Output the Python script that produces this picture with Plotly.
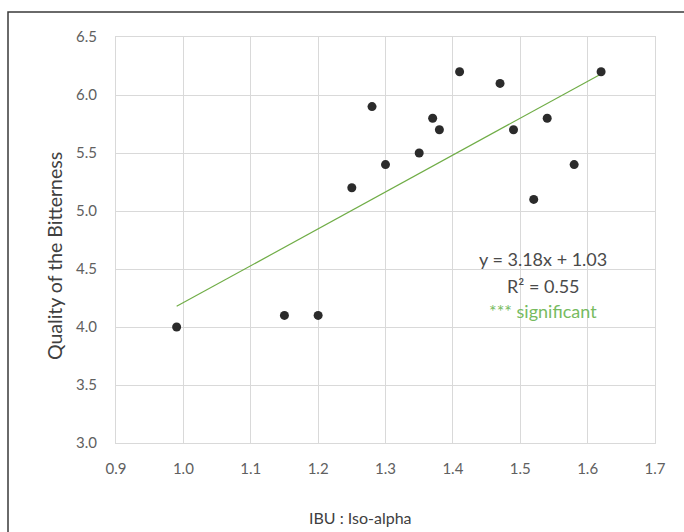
import plotly.graph_objects as go

# Data
ibu_iso_alpha = [0.99, 1.15, 1.20, 1.25, 1.28, 1.30, 1.35, 1.37, 1.38, 1.41, 1.47, 1.49, 1.52, 1.54, 1.58, 1.62]
bitterness_quality = [4.0, 4.1, 4.1, 5.2, 5.9, 5.4, 5.5, 5.8, 5.7, 6.2, 6.1, 5.7, 5.1, 5.8, 5.4, 6.2]

# Trendline coefficients as printed on the chart
slope = 3.18
intercept = 1.03
r_squared = 0.55

x_ticks = [0.9, 1.0, 1.1, 1.2, 1.3, 1.4, 1.5, 1.6, 1.7]
y_ticks = [3.0, 3.5, 4.0, 4.5, 5.0, 5.5, 6.0, 6.5]

x_title = "IBU : Iso-alpha"
y_title = "Quality of the Bitterness"

FONT = "Lato"
TEXT_DARK = "#404040"
TICK_GREY = "#606060"
GREEN = "#70ad47"

W, H = 684, 532
ML, MR, MT, MB = 116, 29, 37, 89
PW, PH = W - ML - MR, H - MT - MB

x_line = [min(ibu_iso_alpha), max(ibu_iso_alpha)]
y_line = [slope * v + intercept for v in x_line]

fig = go.Figure()
fig.add_trace(go.Scatter(
    x=x_line, y=y_line, mode="lines",
    line=dict(color=GREEN, width=1.2),
    hoverinfo="skip", showlegend=False,
))
fig.add_trace(go.Scatter(
    x=ibu_iso_alpha, y=bitterness_quality, mode="markers",
    marker=dict(color="#2b2b2b", size=9),
    showlegend=False,
))

fig.update_layout(
    width=W, height=H,
    margin=dict(l=ML, r=MR, t=MT, b=MB),
    paper_bgcolor="white", plot_bgcolor="white",
    font=dict(family=FONT, color=TEXT_DARK),
    showlegend=False,
)

fig.update_xaxes(
    range=[0.9, 1.7], tickvals=x_ticks, ticktext=[f"{v:.1f}" for v in x_ticks],
    showgrid=True, gridcolor="#d9d9d9", gridwidth=1,
    zeroline=False, showline=True, linecolor="#d9d9d9", linewidth=1, mirror=True,
    ticks="", ticklabelstandoff=12, automargin=False,
    tickfont=dict(family=FONT, size=15, color=TICK_GREY),
)
fig.update_yaxes(
    range=[3.0, 6.5], tickvals=y_ticks, ticktext=[f"{v:.1f}" for v in y_ticks],
    showgrid=True, gridcolor="#d9d9d9", gridwidth=1,
    zeroline=False, showline=True, linecolor="#d9d9d9", linewidth=1, mirror=True,
    ticks="", ticklabelstandoff=15, automargin=False,
    tickfont=dict(family=FONT, size=15, color=TICK_GREY),
)

# Axis titles (positioned like the reference, slightly off-centre)
fig.add_annotation(x=(360 - ML) / PW, y=(MT + PH - 517) / PH, xref="paper", yref="paper",
                   xanchor="center", yanchor="middle",
                   showarrow=False, text=x_title,
                   font=dict(family=FONT, size=16, color=TEXT_DARK))
fig.add_annotation(x=(55 - ML) / PW, y=(MT + PH - 256) / PH, xref="paper", yref="paper",
                   xanchor="center", yanchor="middle",
                   showarrow=False, text=y_title, textangle=-90,
                   font=dict(family=FONT, size=19.5, color=TEXT_DARK))

ann_x = 1.534
fig.add_annotation(x=ann_x, y=4.59, xref="x", yref="y", showarrow=False,
                   text=f"y = {slope:.2f}x + {intercept:.2f}",
                   font=dict(family=FONT, size=18, color="#4a4a4a"))
fig.add_annotation(x=ann_x, y=4.355, xref="x", yref="y", showarrow=False,
                   text=f"R² = {r_squared:.2f}",
                   font=dict(family=FONT, size=18, color="#4a4a4a"))
fig.add_annotation(x=ann_x, y=4.14, xref="x", yref="y", showarrow=False,
                   text="*** significant",
                   font=dict(family=FONT, size=18, color="#77bb5f"))

# Outer chart-area border (extends past right and bottom edges)
fig.add_shape(type="rect", xref="paper", yref="paper",
              x0=(8 - ML) / PW, x1=(700 - ML) / PW,
              y0=(MT + PH - 560) / PH, y1=1 + (MT - 12) / PH,
              line=dict(color="#3a3a3a", width=1.5), fillcolor="rgba(0,0,0,0)", layer="above")

fig.write_html("out.html")
